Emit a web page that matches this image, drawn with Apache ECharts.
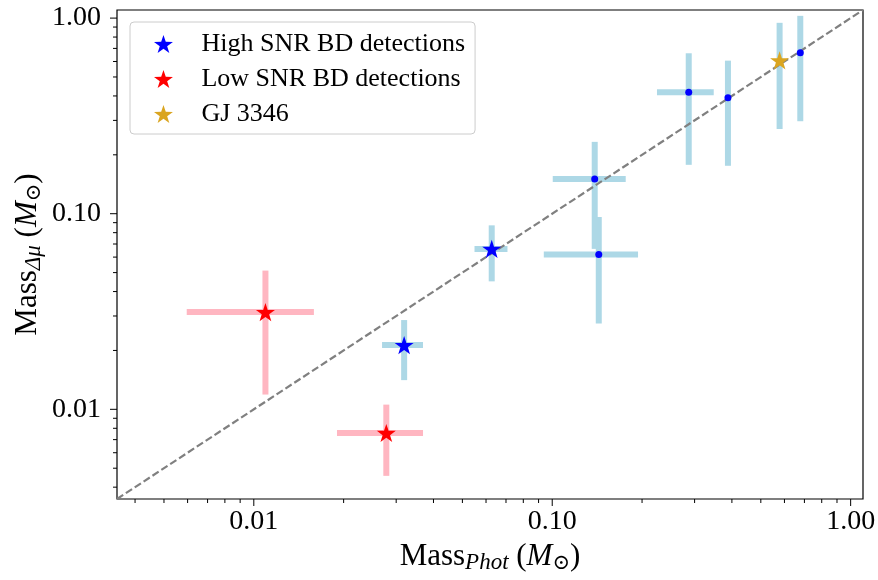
<!DOCTYPE html>
<html>
<head>
<meta charset="utf-8">
<script src="https://cdn.jsdelivr.net/npm/echarts@6/dist/echarts.min.js"></script>
<style>
html, body { margin: 0; padding: 0; background: #fff; }
#chart { width: 878px; height: 580px; }
</style>
</head>
<body>
<div id="chart"></div>
<script>
// axis limits, the same on both axes
var axisMin = 0.00348;
var axisMax = 1.1;

// rows: [x, y, xLow, xHigh, yLow, yHigh]
var highSNR = [
    [0.0319, 0.0213, 0.0269, 0.0369, 0.0141, 0.0286],
    [0.0627, 0.0661, 0.0549, 0.0708, 0.0451, 0.0872]
];
var lowSNR = [
    [0.01094, 0.0314, 0.00596, 0.0159, 0.0119, 0.0512],
    [0.0278, 0.00757, 0.0190, 0.0369, 0.00457, 0.01057]
];
var gj3346 = [
    [0.578, 0.608, 0.578, 0.578, 0.271, 0.946]
];
var otherBD = [
    [0.1388, 0.1504, 0.1004, 0.1763, 0.0661, 0.233],
    [0.1432, 0.0618, 0.0937, 0.1939, 0.02746, 0.0962],
    [0.2867, 0.418, 0.2244, 0.3477, 0.1778, 0.661],
    [0.388, 0.392, 0.388, 0.388, 0.1758, 0.606],
    [0.678, 0.665, 0.678, 0.678, 0.297, 1.027]
];

// ticks
var majorTicks = [0.01, 0.1, 1];
var tickLabels = ['0.01', '0.10', '1.00'];
var minorTicks = [0.004, 0.005, 0.006, 0.007, 0.008, 0.009,
                  0.02, 0.03, 0.04, 0.05, 0.06, 0.07, 0.08, 0.09,
                  0.2, 0.3, 0.4, 0.5, 0.6, 0.7, 0.8, 0.9];

var serif = '"Liberation Serif", "DejaVu Serif", serif';

// star marker like matplotlib '*'
function starPath() {
    var s = 'path://';
    for (var k = 0; k < 10; k++) {
        var a = -Math.PI / 2 + k * Math.PI / 5;
        var r = (k % 2 == 0) ? 50 : 19.5;
        s += (k == 0 ? 'M' : 'L') + (50 + r * Math.cos(a)).toFixed(2) + ' ' + (50 + r * Math.sin(a)).toFixed(2);
    }
    return s + 'Z';
}
var star = starPath();

function pts(rows) {
    return rows.map(function (r) { return [r[0], r[1]]; });
}

function errorSeries(rows, color) {
    return {
        type: 'custom',
        z: 1,
        silent: true,
        data: rows,
        renderItem: function (params, api) {
            var x = api.value(0), y = api.value(1);
            var a = api.coord([api.value(2), y]), b = api.coord([api.value(3), y]);
            var c = api.coord([x, api.value(4)]), d = api.coord([x, api.value(5)]);
            var st = { stroke: color, lineWidth: 6, lineCap: 'butt' };
            return {
                type: 'group',
                children: [
                    { type: 'line', shape: { x1: a[0], y1: a[1], x2: b[0], y2: b[1] }, style: st },
                    { type: 'line', shape: { x1: c[0], y1: c[1], x2: d[0], y2: d[1] }, style: st }
                ]
            };
        }
    };
}

// tick items: [value, labelIndex] (-1 = minor)
var tickData = [];
majorTicks.forEach(function (v, i) { tickData.push([v, i]); });
minorTicks.forEach(function (v) { tickData.push([v, -1]); });

function tickSeries(isX) {
    return {
        type: 'custom',
        z: 5,
        silent: true,
        clip: false,
        data: tickData.map(function (t) { return isX ? [t[0], axisMin, t[1]] : [axisMin, t[0], t[1]]; }),
        renderItem: function (params, api) {
            var idx = api.value(2);
            var len = idx >= 0 ? 7 : 4;
            var p = api.coord([api.value(0), api.value(1)]);
            var kids = [];
            var st = { stroke: '#000', lineWidth: 1 };
            if (isX) {
                kids.push({ type: 'line', shape: { x1: p[0], y1: p[1], x2: p[0], y2: p[1] + len }, style: st });
            } else {
                kids.push({ type: 'line', shape: { x1: p[0], y1: p[1], x2: p[0] - len, y2: p[1] }, style: st });
            }
            if (idx >= 0) {
                kids.push({
                    type: 'text',
                    x: isX ? p[0] : p[0] - 16,
                    y: isX ? p[1] + 9 : p[1],
                    style: {
                        text: tickLabels[idx],
                        fill: '#000',
                        font: '28px ' + serif,
                        align: isX ? 'center' : 'right',
                        verticalAlign: isX ? 'top' : 'middle',
                        textAlign: isX ? 'center' : 'right',
                        textVerticalAlign: isX ? 'top' : 'middle'
                    }
                });
            }
            return { type: 'group', children: kids };
        }
    };
}

var nameRich = {
    m: { fontFamily: serif, fontSize: 31, lineHeight: 34, color: '#000' },
    i: { fontFamily: serif, fontSize: 31, lineHeight: 34, fontStyle: 'italic', color: '#000' },
    s: { fontFamily: serif, fontSize: 23, lineHeight: 16, fontStyle: 'italic', verticalAlign: 'bottom', color: '#000' },
    o: { fontFamily: serif, fontSize: 21, lineHeight: 16, verticalAlign: 'bottom', color: '#000' }
};

var myChart = echarts.init(document.getElementById('chart'));

option = {
    animation: false,
    backgroundColor: '#fff',
    grid: {
        left: 117, right: 15, top: 10, bottom: 81,
        show: true, borderColor: '#000', borderWidth: 1.2
    },
    xAxis: {
        type: 'log', logBase: 10, min: axisMin, max: axisMax,
        axisLine: { show: false }, axisTick: { show: false },
        axisLabel: { show: false }, splitLine: { show: false },
        name: '{m|Mass}{s|Phot}{m| (}{i|M}{o|⊙}{m|)}',
        nameLocation: 'middle', nameGap: 41,
        nameTextStyle: { rich: nameRich }
    },
    yAxis: {
        type: 'log', logBase: 10, min: axisMin, max: axisMax,
        axisLine: { show: false }, axisTick: { show: false },
        axisLabel: { show: false }, splitLine: { show: false },
        name: '{m|Mass}{s|Δμ}{m| (}{i|M}{o|⊙}{m|)}',
        nameLocation: 'middle', nameGap: 72,
        nameTextStyle: { rich: nameRich }
    },
    legend: {
        orient: 'vertical',
        left: 130, top: 22,
        padding: [9, 10, 7, 24],
        itemWidth: 30, itemHeight: 18, itemGap: 9,
        backgroundColor: 'rgba(255,255,255,0.8)',
        borderColor: '#cccccc', borderWidth: 1, borderRadius: 4,
        textStyle: { fontFamily: serif, fontSize: 26, color: '#000', padding: [0, 0, 0, 18] },
        data: ['High SNR BD detections', 'Low SNR BD detections', 'GJ 3346']
    },
    series: [
        errorSeries(otherBD, '#add8e6'),
        errorSeries(highSNR, '#add8e6'),
        errorSeries(gj3346, '#add8e6'),
        errorSeries(lowSNR, '#ffb6c1'),
        {
            type: 'line', z: 2, silent: true,
            data: [[axisMin, axisMin], [axisMax, axisMax]],
            symbol: 'none',
            lineStyle: { color: '#808080', width: 2.2, type: [7.4, 3.2] }
        },
        {
            name: 'other', type: 'scatter', z: 3,
            data: pts(otherBD), symbol: 'circle', symbolSize: 7,
            itemStyle: { color: '#0000ff', opacity: 1 }
        },
        {
            name: 'High SNR BD detections', type: 'scatter', z: 3,
            data: pts(highSNR), symbol: star, symbolSize: 19, symbolKeepAspect: true,
            itemStyle: { color: '#0000ff', opacity: 1 }
        },
        {
            name: 'Low SNR BD detections', type: 'scatter', z: 3,
            data: pts(lowSNR), symbol: star, symbolSize: 19, symbolKeepAspect: true,
            itemStyle: { color: '#ff0000', opacity: 1 }
        },
        {
            name: 'GJ 3346', type: 'scatter', z: 3,
            data: pts(gj3346), symbol: star, symbolSize: 19, symbolKeepAspect: true,
            itemStyle: { color: '#daa520', opacity: 1 }
        },
        tickSeries(true),
        tickSeries(false)
    ]
};

myChart.setOption(option);
</script>
</body>
</html>
